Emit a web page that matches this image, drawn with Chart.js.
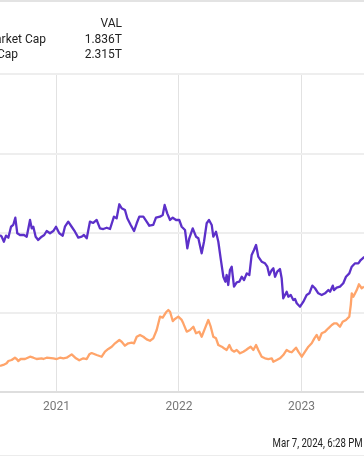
<!DOCTYPE html>
<html>
<head>
<meta charset="utf-8">
<script src="https://cdn.jsdelivr.net/npm/chart.js@4.4.1/dist/chart.umd.min.js"></script>
<style>
  html, body { margin: 0; padding: 0; background: #fff; }
  #wrap { position: relative; width: 364px; height: 456px; overflow: hidden; font-family: Roboto, sans-serif; }
  #c { position: absolute; left: 0; top: 0; }
  .rule { position: absolute; left: 0; width: 364px; }
  .t { position: absolute; white-space: nowrap; font-size: 12px; line-height: 14px; color: #222; }
</style>
</head>
<body>
<div id="wrap">
  <canvas id="c" width="364" height="456"></canvas>
  <div class="rule" style="top:0;height:2px;background:#e3e3e3"></div>
  <div class="rule" style="top:455px;height:1px;background:#ececec"></div>

  <div class="t" style="right:242px;top:16px">VAL</div>
  <div class="t" id="name0" style="right:318px;top:32px"></div>
  <div class="t" id="val0" style="right:242px;top:32px"></div>
  <div class="t" id="name1" style="right:346px;top:47px"></div>
  <div class="t" id="val1" style="right:242px;top:47px"></div>

  <div class="t" id="stamp" style="right:1px;top:436px;transform:scaleX(0.8);transform-origin:right center"></div>
</div>
<script>
// legend / labels
const seriesNames = ['Amazon.com Inc (AMZN) Market Cap', 'NVIDIA Corp (NVDA) Market Cap'];
const lastValues = ['1.836T', '2.315T'];
const stampText = 'Mar 7, 2024, 6:28 PM';
const tickYears = [2021, 2022, 2023];
const capTicks = [0, 0.8, 1.6, 2.4, 3.2]; // trillions

// Amazon market cap (trillions), by decimal year
const amznYears = [2020.539,2020.553,2020.571,2020.588,2020.607,2020.629,2020.647,2020.664,2020.680,2020.702,
  2020.735,2020.757,2020.784,2020.798,2020.811,2020.830,2020.851,2020.879,2020.900,2020.920,
  2020.947,2020.974,2020.996,2021.023,2021.051,2021.069,2021.096,2021.124,2021.151,2021.178,
  2021.206,2021.224,2021.247,2021.273,2021.300,2021.328,2021.355,2021.382,2021.410,2021.437,
  2021.469,2021.491,2021.513,2021.532,2021.559,2021.578,2021.606,2021.633,2021.655,2021.676,
  2021.709,2021.736,2021.758,2021.790,2021.812,2021.845,2021.867,2021.883,2021.904,2021.927,
  2021.949,2021.976,2022.002,2022.022,2022.049,2022.068,2022.084,2022.112,2022.139,2022.158,
  2022.185,2022.204,2022.226,2022.245,2022.267,2022.280,2022.302,2022.321,2022.340,2022.362,
  2022.378,2022.389,2022.402,2022.416,2022.430,2022.449,2022.471,2022.492,2022.512,2022.531,
  2022.553,2022.574,2022.593,2022.612,2022.629,2022.647,2022.675,2022.702,2022.721,2022.737,
  2022.757,2022.770,2022.784,2022.802,2022.824,2022.838,2022.851,2022.865,2022.879,2022.892,
  2022.912,2022.933,2022.947,2022.961,2022.988,2023.015,2023.042,2023.064,2023.088,2023.110,
  2023.137,2023.165,2023.192,2023.219,2023.233,2023.255,2023.265,2023.287,2023.314,2023.341,
  2023.363,2023.390,2023.410,2023.437,2023.464,2023.483,2023.504,2023.527];
const amznCap = [1.580,1.563,1.512,1.573,1.553,1.663,1.681,1.754,1.597,1.580,
  1.580,1.563,1.731,1.647,1.663,1.563,1.530,1.563,1.580,1.620,
  1.597,1.620,1.663,1.597,1.573,1.663,1.714,1.663,1.613,1.553,
  1.563,1.580,1.547,1.714,1.701,1.731,1.647,1.640,1.653,1.640,
  1.764,1.748,1.889,1.849,1.831,1.748,1.681,1.620,1.698,1.764,
  1.764,1.714,1.673,1.681,1.754,1.764,1.781,1.882,1.798,1.731,
  1.754,1.731,1.731,1.663,1.630,1.446,1.547,1.647,1.563,1.547,
  1.396,1.512,1.698,1.731,1.681,1.563,1.613,1.512,1.345,1.160,
  1.110,1.177,1.077,1.228,1.261,1.060,1.104,1.110,1.160,1.127,
  1.194,1.177,1.379,1.429,1.479,1.362,1.311,1.295,1.261,1.177,
  1.228,1.245,1.160,1.211,1.238,1.144,0.943,0.976,1.009,0.959,
  0.976,0.926,0.936,0.893,0.858,0.909,0.976,0.993,1.070,1.044,
  0.993,0.976,0.993,1.026,1.009,1.070,1.026,1.050,1.060,1.094,
  1.160,1.194,1.261,1.295,1.295,1.328,1.351,1.369];

// NVIDIA market cap (trillions), by decimal year
const nvdaYears = [2020.539,2020.566,2020.593,2020.607,2020.634,2020.661,2020.675,2020.688,2020.708,2020.743,
  2020.784,2020.811,2020.838,2020.879,2020.892,2020.920,2020.974,2021.002,2021.029,2021.056,
  2021.083,2021.124,2021.159,2021.186,2021.219,2021.247,2021.268,2021.287,2021.328,2021.369,
  2021.396,2021.423,2021.451,2021.478,2021.513,2021.532,2021.559,2021.586,2021.614,2021.633,
  2021.655,2021.682,2021.709,2021.736,2021.763,2021.790,2021.818,2021.845,2021.867,2021.894,
  2021.913,2021.927,2021.949,2021.967,2021.994,2022.022,2022.035,2022.063,2022.090,2022.117,
  2022.139,2022.166,2022.185,2022.212,2022.239,2022.259,2022.280,2022.302,2022.321,2022.349,
  2022.367,2022.389,2022.411,2022.430,2022.449,2022.471,2022.498,2022.525,2022.547,2022.566,
  2022.585,2022.607,2022.629,2022.647,2022.675,2022.702,2022.729,2022.757,2022.770,2022.798,
  2022.824,2022.851,2022.879,2022.900,2022.920,2022.955,2022.974,2023.002,2023.029,2023.056,
  2023.083,2023.105,2023.124,2023.143,2023.165,2023.192,2023.219,2023.247,2023.268,2023.287,
  2023.314,2023.336,2023.363,2023.390,2023.402,2023.410,2023.423,2023.451,2023.469,2023.491,
  2023.510,2023.527];
const nvdaCap = [0.262,0.272,0.289,0.312,0.322,0.345,0.332,0.312,0.332,0.332,
  0.355,0.345,0.332,0.339,0.332,0.345,0.339,0.332,0.345,0.339,
  0.345,0.379,0.339,0.319,0.339,0.332,0.379,0.392,0.372,0.355,
  0.406,0.433,0.456,0.490,0.523,0.506,0.466,0.490,0.496,0.490,
  0.556,0.574,0.556,0.530,0.516,0.540,0.624,0.758,0.748,0.802,
  0.825,0.808,0.714,0.735,0.758,0.725,0.691,0.607,0.624,0.657,
  0.591,0.607,0.556,0.641,0.725,0.657,0.556,0.540,0.473,0.456,
  0.440,0.423,0.473,0.423,0.406,0.423,0.389,0.406,0.423,0.440,
  0.456,0.423,0.473,0.423,0.355,0.339,0.332,0.339,0.305,0.322,
  0.339,0.372,0.423,0.406,0.400,0.446,0.406,0.355,0.406,0.456,
  0.490,0.540,0.574,0.523,0.591,0.607,0.641,0.674,0.691,0.691,
  0.657,0.707,0.725,0.758,0.875,0.993,0.959,1.026,1.084,1.044,
  1.060,1.077];

document.getElementById('name0').textContent = seriesNames[0];
document.getElementById('name1').textContent = seriesNames[1];
document.getElementById('val0').textContent = lastValues[0];
document.getElementById('val1').textContent = lastValues[1];
document.getElementById('stamp').textContent = stampText;

const toPoints = (xs, ys) => xs.map((x, i) => ({ x: x, y: ys[i] }));

Chart.defaults.font.family = 'Roboto';

const config = {
  type: 'line',
  data: {
    datasets: [
      {
        label: seriesNames[0],
        data: toPoints(amznYears, amznCap),
        borderColor: '#5c30c9',
        borderWidth: 2.3,
        borderJoinStyle: 'round',
        pointRadius: 0,
        tension: 0,
      },
      {
        label: seriesNames[1],
        data: toPoints(nvdaYears, nvdaCap),
        borderColor: '#ffa46a',
        borderWidth: 2.3,
        borderJoinStyle: 'round',
        pointRadius: 0,
        tension: 0,
      },
    ],
  },
  options: {
    responsive: false,
    animation: false,
    events: [],
    layout: { padding: { top: 74, left: 0, right: 0, bottom: 0 } },
    plugins: {
      legend: { display: false },
      tooltip: { enabled: false },
    },
    scales: {
      x: {
        type: 'linear',
        min: 2020.539,
        max: 2023.51,
        afterBuildTicks: (scale) => { scale.ticks = tickYears.map(v => ({ value: v })); },
        afterFit: (scale) => { scale.height = 64; },
        ticks: {
          color: '#777',
          font: { size: 12 },
          padding: 8,
          maxRotation: 0,
          callback: (v) => String(Math.round(v)),
        },
        grid: { color: '#e2e2e2', lineWidth: 1, drawTicks: false },
        border: { color: '#dedede', width: 2 },
      },
      y: {
        type: 'linear',
        min: 0,
        max: 3.2,
        afterBuildTicks: (scale) => { scale.ticks = capTicks.map(v => ({ value: v })); },
        afterFit: (scale) => { scale.width = 0; },
        ticks: { display: false },
        grid: { color: '#eeeeee', lineWidth: 2, drawTicks: false },
        border: { display: false },
      },
    },
  },
};

new Chart(document.getElementById('c'), config);
</script>
</body>
</html>
